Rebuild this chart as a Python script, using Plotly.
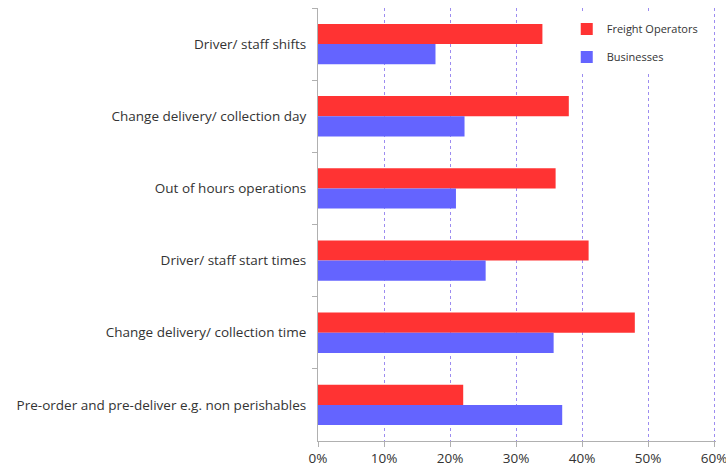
import plotly.graph_objects as go

# Survey responses: share of respondents choosing each measure
categories = [
    "Driver/ staff shifts",
    "Change delivery/ collection day",
    "Out of hours operations",
    "Driver/ staff start times",
    "Change delivery/ collection time",
    "Pre-order and pre-deliver e.g. non perishables",
]
freight_operators = [0.34, 0.38, 0.36, 0.41, 0.48, 0.22]
businesses = [0.178, 0.222, 0.209, 0.254, 0.357, 0.370]
x_ticks = [0, 0.1, 0.2, 0.3, 0.4, 0.5, 0.6]
x_tick_labels = ["0%", "10%", "20%", "30%", "40%", "50%", "60%"]

RED = "#ff3333"
BLUE = "#6464ff"
GRID = "#9c8cf0"
AXIS = "#b0b0b0"
TEXT = "#333333"
FONT = "Open Sans"

fig = go.Figure()
fig.add_trace(go.Bar(
    name="Freight Operators", y=categories, x=freight_operators,
    orientation="h", legendgroup="freight",
    marker=dict(color=RED, line=dict(width=0)),
))
fig.add_trace(go.Bar(
    name="Businesses", y=categories, x=businesses,
    orientation="h", legendgroup="business",
    marker=dict(color=BLUE, line=dict(width=0)),
))

fig.update_layout(
    width=726, height=471,
    margin=dict(l=318, r=10, t=8, b=30),
    paper_bgcolor="white", plot_bgcolor="white",
    barmode="group", bargap=0.44, bargroupgap=0,
    font=dict(family=FONT, size=13.5, color=TEXT),
    showlegend=True,
    legend=dict(
        x=0.625, y=0.985, xanchor="left", yanchor="top",
        bgcolor="white", borderwidth=0,
        font=dict(family=FONT, size=11, color=TEXT),
        traceorder="grouped", itemwidth=30, tracegroupgap=9,
    ),
    xaxis=dict(
        range=[0, 0.603], tickvals=x_ticks, ticktext=x_tick_labels,
        showgrid=True, gridcolor=GRID, griddash="dot", gridwidth=1,
        showline=True, linecolor=AXIS, linewidth=1,
        ticks="outside", ticklen=5, tickcolor=AXIS,
        zeroline=False, fixedrange=True, ticklabeloverflow="allow",
        automargin=False,
        tickfont=dict(family=FONT, size=13.5, color=TEXT),
    ),
    yaxis=dict(
        autorange="reversed", showgrid=False,
        showline=True, linecolor=AXIS, linewidth=1,
        ticks="outside", ticklen=5, tickcolor=AXIS,
        tickson="boundaries", ticklabelstandoff=8,
        automargin=False,
        tickfont=dict(family=FONT, size=13.5, color=TEXT),
    ),
)

fig.write_html("out.html")
